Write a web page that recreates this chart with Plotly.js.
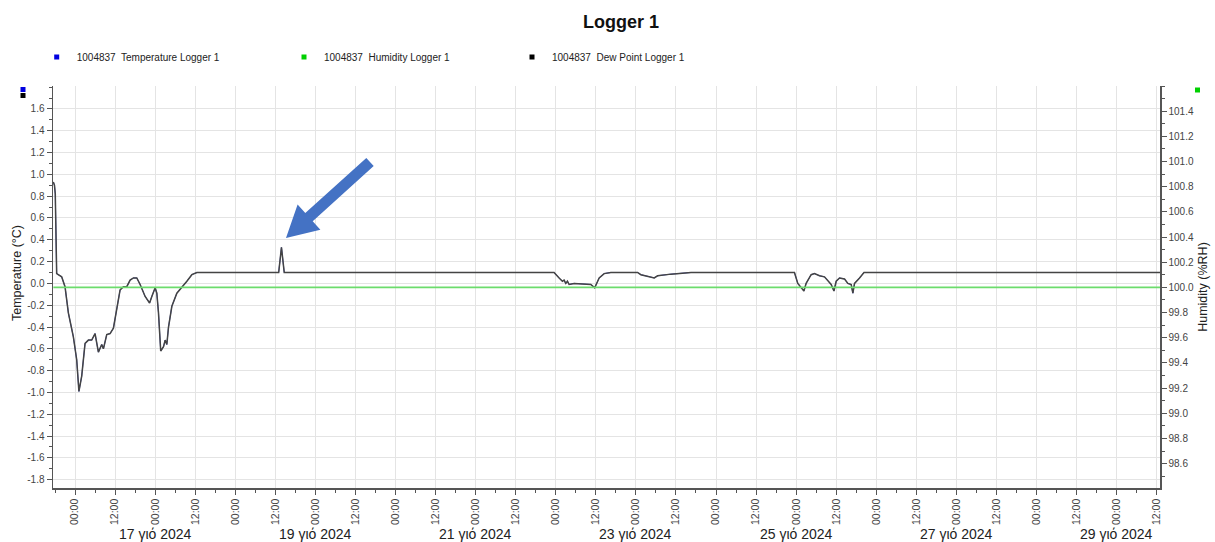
<!DOCTYPE html>
<html>
<head>
<meta charset="utf-8">
<script src="https://cdn.plot.ly/plotly-3.0.1.min.js"></script>
<style>html,body{margin:0;padding:0;background:#fff;}#chart{width:1215px;height:542px;}</style>
</head>
<body>
<div id="chart"></div>
<script>
// ---------- data ----------
const seriesNames = ['1004837  Temperature Logger 1', '1004837  Humidity Logger 1', '1004837  Dew Point Logger 1'];

const tempTimes = [
 '2024-07-15 17:30','2024-07-15 17:50','2024-07-15 18:05','2024-07-15 18:30','2024-07-15 20:00','2024-07-15 20:40',
 '2024-07-15 21:00','2024-07-15 22:00','2024-07-15 23:30','2024-07-16 00:30','2024-07-16 01:10','2024-07-16 02:00',
 '2024-07-16 03:00','2024-07-16 04:00','2024-07-16 05:00','2024-07-16 06:00','2024-07-16 07:00','2024-07-16 08:00',
 '2024-07-16 08:30','2024-07-16 09:30','2024-07-16 10:30','2024-07-16 11:30','2024-07-16 12:30','2024-07-16 13:30',
 '2024-07-16 14:30','2024-07-16 15:30','2024-07-16 16:30','2024-07-16 17:30','2024-07-16 18:30','2024-07-16 19:30',
 '2024-07-16 21:00','2024-07-16 22:20','2024-07-16 23:00','2024-07-17 00:00','2024-07-17 00:30','2024-07-17 01:00',
 '2024-07-17 01:40','2024-07-17 02:30','2024-07-17 03:00','2024-07-17 03:30','2024-07-17 04:00','2024-07-17 05:00',
 '2024-07-17 06:30','2024-07-17 08:00','2024-07-17 09:30','2024-07-17 11:00','2024-07-17 12:30','2024-07-17 18:00',
 '2024-07-18 00:00','2024-07-18 06:00','2024-07-18 13:00','2024-07-18 13:50','2024-07-18 14:40','2024-07-18 20:00',
 '2024-07-19 06:00','2024-07-19 18:00','2024-07-20 06:00','2024-07-20 18:00','2024-07-21 06:00','2024-07-21 18:00',
 '2024-07-21 23:30','2024-07-22 01:00','2024-07-22 02:00','2024-07-22 02:30','2024-07-22 03:00','2024-07-22 03:30',
 '2024-07-22 04:00','2024-07-22 05:30','2024-07-22 08:30','2024-07-22 10:30','2024-07-22 11:40','2024-07-22 13:00',
 '2024-07-22 14:30','2024-07-22 16:30','2024-07-23 00:30','2024-07-23 01:30','2024-07-23 05:30','2024-07-23 06:30',
 '2024-07-23 10:30','2024-07-23 16:30','2024-07-24 06:00','2024-07-24 18:00','2024-07-24 23:30','2024-07-25 00:30',
 '2024-07-25 01:30','2024-07-25 02:20','2024-07-25 03:00','2024-07-25 04:30','2024-07-25 05:30','2024-07-25 07:00',
 '2024-07-25 08:30','2024-07-25 09:30','2024-07-25 10:30','2024-07-25 11:20','2024-07-25 12:00','2024-07-25 13:00',
 '2024-07-25 14:30','2024-07-25 15:30','2024-07-25 16:30','2024-07-25 17:00','2024-07-25 17:30','2024-07-25 19:00',
 '2024-07-25 20:20','2024-07-26 06:00','2024-07-26 18:00','2024-07-27 06:00','2024-07-27 18:00','2024-07-28 06:00',
 '2024-07-28 18:00','2024-07-29 06:00','2024-07-29 13:00'
];

const temperatureValues = [
 0.93, 0.90, 0.82, 0.09, 0.06, 0.00,
 -0.03, -0.27, -0.49, -0.70, -0.99, -0.85,
 -0.55, -0.52, -0.52, -0.46, -0.63, -0.56,
 -0.60, -0.47, -0.46, -0.41, -0.24, -0.06,
 -0.03, -0.03, 0.03, 0.05, 0.05, -0.01,
 -0.12, -0.18, -0.12, -0.04, -0.09, -0.27,
 -0.62, -0.58, -0.52, -0.56, -0.40, -0.21,
 -0.09, -0.04, 0.02, 0.08, 0.10, 0.10,
 0.10, 0.10, 0.10, 0.33, 0.10, 0.10,
 0.10, 0.10, 0.10, 0.10, 0.10, 0.10,
 0.10, 0.05, 0.02, 0.03, 0.00, 0.02,
 -0.01, 0.00, -0.005, -0.01, -0.04, 0.05,
 0.09, 0.10, 0.10, 0.08, 0.05, 0.07,
 0.085, 0.10, 0.10, 0.10, 0.10, 0.00,
 -0.04, -0.07, 0.00, 0.08, 0.09, 0.07,
 0.06, 0.02, -0.01, -0.07, 0.02, 0.05,
 0.04, 0.00, -0.01, -0.09, 0.00, 0.05,
 0.10, 0.10, 0.10, 0.10, 0.10, 0.10,
 0.10, 0.10, 0.10
];

// dew point reads identical to the temperature (it hides the blue line)
const dewPointValues = [
 0.93, 0.90, 0.82, 0.09, 0.06, 0.00,
 -0.03, -0.27, -0.49, -0.70, -0.99, -0.85,
 -0.55, -0.52, -0.52, -0.46, -0.63, -0.56,
 -0.60, -0.47, -0.46, -0.41, -0.24, -0.06,
 -0.03, -0.03, 0.03, 0.05, 0.05, -0.01,
 -0.12, -0.18, -0.12, -0.04, -0.09, -0.27,
 -0.62, -0.58, -0.52, -0.56, -0.40, -0.21,
 -0.09, -0.04, 0.02, 0.08, 0.10, 0.10,
 0.10, 0.10, 0.10, 0.33, 0.10, 0.10,
 0.10, 0.10, 0.10, 0.10, 0.10, 0.10,
 0.10, 0.05, 0.02, 0.03, 0.00, 0.02,
 -0.01, 0.00, -0.005, -0.01, -0.04, 0.05,
 0.09, 0.10, 0.10, 0.08, 0.05, 0.07,
 0.085, 0.10, 0.10, 0.10, 0.10, 0.00,
 -0.04, -0.07, 0.00, 0.08, 0.09, 0.07,
 0.06, 0.02, -0.01, -0.07, 0.02, 0.05,
 0.04, 0.00, -0.01, -0.09, 0.00, 0.05,
 0.10, 0.10, 0.10, 0.10, 0.10, 0.10,
 0.10, 0.10, 0.10
];

const humidityTimes = ['2024-07-15 17:30', '2024-07-19 00:00', '2024-07-23 00:00', '2024-07-27 00:00', '2024-07-29 13:00'];
const humidityValues = [100.0, 100.0, 100.0, 100.0, 100.0];

const tempTickVals = [-1.8,-1.6,-1.4,-1.2,-1.0,-0.8,-0.6,-0.4,-0.2,0,0.2,0.4,0.6,0.8,1.0,1.2,1.4,1.6];
const tempTickText = ['-1.8','-1.6','-1.4','-1.2','-1.0','-0.8','-0.6','-0.4','-0.2','0.0','0.2','0.4','0.6','0.8','1.0','1.2','1.4','1.6'];
const humTickVals = [98.6,98.8,99.0,99.2,99.4,99.6,99.8,100.0,100.2,100.4,100.6,100.8,101.0,101.2,101.4];
const humTickText = ['98.6','98.8','99.0','99.2','99.4','99.6','99.8','100.0','100.2','100.4','100.6','100.8','101.0','101.2','101.4'];

const dateLabelDays = ['2024-07-17','2024-07-19','2024-07-21','2024-07-23','2024-07-25','2024-07-27','2024-07-29'];
const dateLabelTexts = ['17 γιό 2024','19 γιό 2024','21 γιό 2024','23 γιό 2024','25 γιό 2024','27 γιό 2024','29 γιό 2024'];

const leftAxisTitle = 'Temperature (°C)';
const rightAxisTitle = 'Humidity (%RH)';

// ---------- layout helpers ----------
const W = 1215, H = 542;
const M = {l: 53, r: 55, t: 86, b: 54, autoexpand: false};
const PW = W - M.l - M.r, PH = H - M.t - M.b;
const px = p => (p - M.l) / PW;
const py = p => (H - M.b - p) / PH;
const FONT = 'Arial, "Liberation Sans", sans-serif';
const AXC = '#555555';

function rectShape(x0, y0, x1, y1, color) {
  return {type: 'rect', xref: 'paper', yref: 'paper', x0: px(x0), x1: px(x1), y0: py(y1), y1: py(y0),
          fillcolor: color, line: {width: 0}, layer: 'above'};
}
// blue call-out arrow (pixel outline)
const arrowPts = [[366.3,157.9],[305.3,213.1],[297.6,204.6],[286,238],[320.4,229.8],[312.7,221.3],[373.7,166.1]];
const arrowPath = arrowPts.map((p, i) => (i ? 'L' : 'M') + px(p[0]).toFixed(5) + ',' + py(p[1]).toFixed(5)).join(' ') + ' Z';

const traces = [
  {x: tempTimes, y: temperatureValues, name: seriesNames[0], type: 'scatter', mode: 'lines',
   line: {color: '#2030d0', width: 0.8}, yaxis: 'y', showlegend: false},
  {x: humidityTimes, y: humidityValues, name: seriesNames[1], type: 'scatter', mode: 'lines',
   line: {color: '#6cdc6c', width: 1.6}, yaxis: 'y2', showlegend: false},
  {x: tempTimes, y: dewPointValues, name: seriesNames[2], type: 'scatter', mode: 'lines',
   line: {color: '#444444', width: 1.5}, yaxis: 'y', showlegend: false},
  // legend entries (square swatches)
  {x: [null], y: [null], name: seriesNames[0], type: 'scatter', mode: 'markers', legend: 'legend',
   marker: {symbol: 'square', size: 5, color: '#0000e0'}},
  {x: [null], y: [null], name: seriesNames[1], type: 'scatter', mode: 'markers', legend: 'legend2',
   marker: {symbol: 'square', size: 5, color: '#00d000'}},
  {x: [null], y: [null], name: seriesNames[2], type: 'scatter', mode: 'markers', legend: 'legend3',
   marker: {symbol: 'square', size: 5, color: '#000000'}}
];

function legendAt(markerX) {
  return {xref: 'container', yref: 'container', x: (markerX - 20) / W, y: 1 - 57 / H,
          xanchor: 'left', yanchor: 'middle', bgcolor: 'rgba(0,0,0,0)', borderwidth: 0,
          font: {family: FONT, size: 10, color: '#222'}, itemclick: false, itemdoubleclick: false};
}

const annotations = dateLabelDays.map((d, i) => ({
  x: d, xref: 'x', y: py(534), yref: 'paper', text: dateLabelTexts[i], showarrow: false,
  xanchor: 'center', yanchor: 'middle', font: {family: FONT, size: 14, color: '#222'}
}));
annotations.push({
  x: px(17), xref: 'paper', y: py(273), yref: 'paper', text: leftAxisTitle, textangle: -90, showarrow: false,
  xanchor: 'center', yanchor: 'middle', font: {family: FONT, size: 12.5, color: '#222'}
});

const layout = {
  width: W, height: H, margin: M,
  paper_bgcolor: '#ffffff', plot_bgcolor: '#ffffff',
  font: {family: FONT, color: '#333'},
  title: {text: 'Logger 1', x: 621 / W, xref: 'container', xanchor: 'center', y: 1 - 22 / H, yref: 'container',
          yanchor: 'middle', font: {family: FONT, size: 18, weight: 'bold', color: '#111'}},
  showlegend: true,
  legend: legendAt(56.7), legend2: legendAt(304), legend3: legendAt(532),
  xaxis: {
    type: 'date', range: ['2024-07-15 17:24', '2024-07-29 13:00'],
    tickmode: 'linear', tick0: '2024-07-16 00:00', dtick: 12 * 3600 * 1000, tickformat: '%H:%M',
    tickangle: -90, ticks: 'outside', ticklen: 5, tickwidth: 1, tickcolor: AXC,
    minor: {ticks: 'outside', ticklen: 3, tickwidth: 1, tickcolor: AXC, tick0: '2024-07-16 00:00', dtick: 6 * 3600 * 1000, showgrid: false},
    showgrid: true, gridcolor: '#e4e4e4', gridwidth: 1,
    showline: true, linecolor: AXC, linewidth: 1.5, zeroline: false,
    tickfont: {family: FONT, size: 10.5, color: '#444'}, automargin: false
  },
  yaxis: {
    range: [-1.876, 1.81], tickmode: 'array', tickvals: tempTickVals, ticktext: tempTickText,
    ticks: 'outside', ticklen: 5, tickwidth: 1, tickcolor: AXC,
    minor: {ticks: 'outside', ticklen: 3, tickwidth: 1, tickcolor: AXC, tick0: 0, dtick: 0.1, showgrid: false},
    showgrid: true, gridcolor: '#e4e4e4', gridwidth: 1,
    showline: true, linecolor: AXC, linewidth: 1.5, zeroline: false,
    tickfont: {family: FONT, size: 10, color: '#444'}, automargin: false
  },
  yaxis2: {
    overlaying: 'y', side: 'right', range: [98.406, 101.60], tickmode: 'array', tickvals: humTickVals, ticktext: humTickText,
    ticks: 'outside', ticklen: 5, tickwidth: 1, tickcolor: AXC,
    minor: {ticks: 'outside', ticklen: 3, tickwidth: 1, tickcolor: AXC, tick0: 100, dtick: 0.1, showgrid: false},
    showgrid: false, showline: true, linecolor: AXC, linewidth: 1.5, zeroline: false,
    tickfont: {family: FONT, size: 10, color: '#444'}, automargin: false,
    title: {text: rightAxisTitle, font: {family: FONT, size: 12.5, color: '#222'}}
  },
  annotations: annotations,
  shapes: [
    rectShape(20.5, 87, 25.5, 92, '#0000e0'),
    rectShape(20.5, 93, 25.5, 98, '#000000'),
    rectShape(1195, 87.5, 1200, 92.5, '#00d000'),
    {type: 'path', xref: 'paper', yref: 'paper', path: arrowPath, fillcolor: '#4472c4', line: {width: 0}, layer: 'above'}
  ]
};

Plotly.newPlot('chart', traces, layout, {displayModeBar: false, staticPlot: true});
</script>
</body>
</html>
